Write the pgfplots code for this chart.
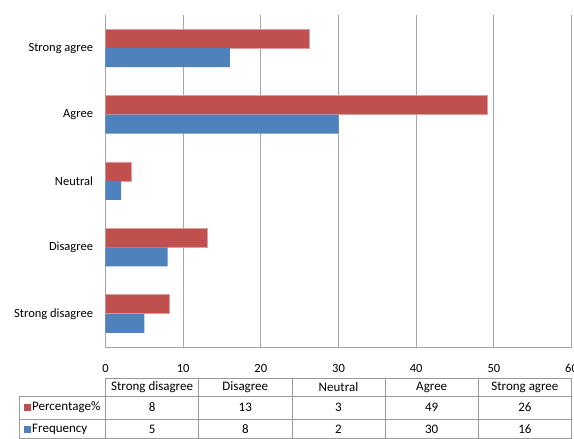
\documentclass[border=0pt]{standalone}
\usepackage{pgfplots}
\pgfplotsset{compat=1.18}
\usepackage{fontspec}
\setmainfont{Carlito}
\definecolor{cred}{HTML}{C0504D}
\definecolor{cblue}{HTML}{4F81BD}
\definecolor{gridc}{HTML}{A6A6A6}
\definecolor{tabc}{HTML}{9A9A9A}
\begin{document}
\begin{tikzpicture}[x=1bp,y=1bp,font=\fontsize{12.5bp}{14bp}\selectfont]
\useasboundingbox (-105.5,-92) rectangle (468.5,347);
\begin{axis}[width=466bp, height=332bp, scale only axis,
 xmin=0,xmax=60,ymin=-0.5,ymax=4.5,
 xtick={0,10,...,60}, ytick={0,...,4},
 yticklabels={Strong disagree,Disagree,Neutral,Agree,Strong agree},
 axis lines*=left, axis line style={-,draw=gridc},
 major tick length=0,
 xmajorgrids, grid style={gridc, line width=0.8bp},
 /pgf/number format/assume math mode=true,
 xticklabel style={yshift=-14bp},
 yticklabel style={xshift=-9bp},
 tick label style={font=\fontsize{12.5bp}{14bp}\selectfont},
 xbar, bar width=19bp,
]
\addplot[fill=cred, draw=cred!55!white, line width=0.6bp, bar shift=9.5bp] coordinates {(8.2,0) (13.1,1) (3.3,2) (49.2,3) (26.2,4)};
\addplot[fill=cblue, draw=none, bar shift=-9.5bp] coordinates {(5,0) (8,1) (2,2) (30,3) (16,4)};
\end{axis}
% data table
\begin{scope}[shift={(-105.5,-92)}, font=\fontsize{13bp}{15bp}\selectfont]
\begin{scope}[draw=tabc, line width=0.8bp]
\draw (105.5,61) -- (571.5,61);
\draw (19,43) -- (571.5,43);
\draw (19,20) -- (571.5,20);
\draw (19,0.4) -- (571.5,0.4);
\draw (19,0) -- (19,43);
\foreach \xx in {105.5,198.7,291.9,385.1,478.3,571.5} {\draw (\xx,0) -- (\xx,61);}
\end{scope}
\foreach \lab [count=\i from 0] in {Strong disagree,Disagree,Neutral,Agree,Strong agree} {
  \node at (152.1+93.2*\i,52) {\lab};
}
\foreach \v [count=\i from 0] in {8,13,3,49,26} {\node at (152.1+93.2*\i,31.5) {\v};}
\foreach \v [count=\i from 0] in {5,8,2,30,16} {\node at (152.1+93.2*\i,10) {\v};}
\fill[cred] (24.5,27.5) rectangle (31,34.5);
\fill[cblue] (24.5,6) rectangle (31,13);
\node[anchor=west, inner sep=0] at (32,31.5) {Percentage\%};
\node[anchor=west, inner sep=0] at (32,10) {Frequency};
\end{scope}
\end{tikzpicture}
\end{document}
